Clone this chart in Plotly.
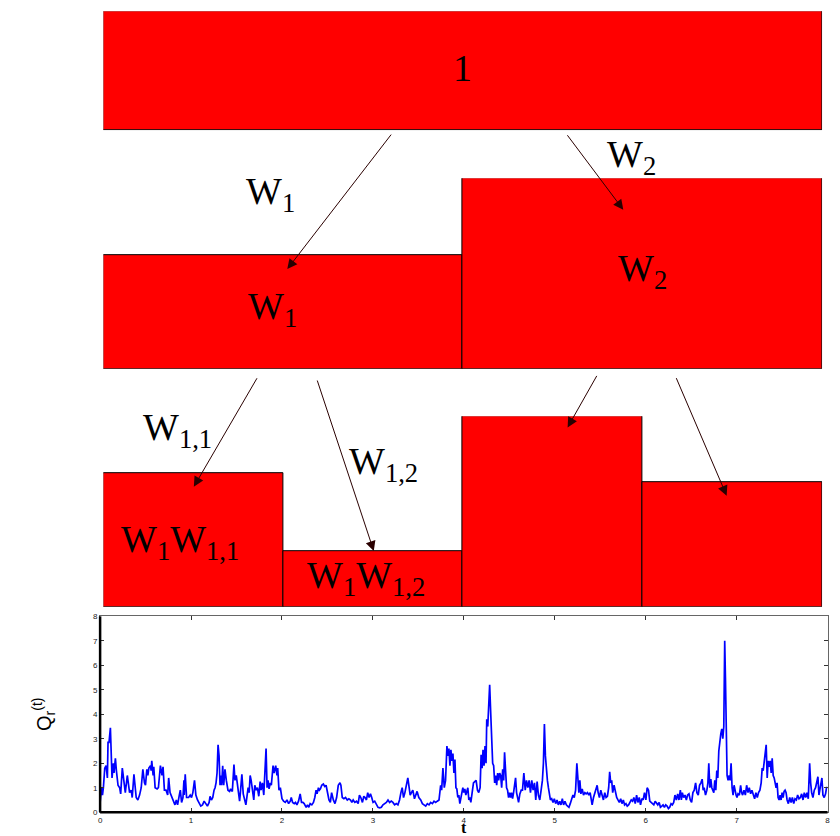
import plotly.graph_objects as go

# ---------------- data ----------------
# cascade levels (heights of the red boxes, top level = 1)
level0 = [1.0]
level1 = [0.95, 1.60]
level2 = [1.12, 0.47, 1.60, 1.05]

level0_labels = ["1"]
level1_labels = ["W<sub>1</sub>", "W<sub>2</sub>"]
level2_labels = ["W<sub>1</sub>W<sub>1,1</sub>", "W<sub>1</sub>W<sub>1,2</sub>", "", ""]

# Q_r(t) series
t_vals = [
    0.000, 0.015, 0.026, 0.036, 0.051, 0.066, 0.080, 0.087, 0.098, 0.113, 0.131, 0.146, 0.153, 0.168, 0.179,
    0.197, 0.215, 0.226, 0.244, 0.262, 0.277, 0.299, 0.324, 0.342, 0.353, 0.372, 0.397, 0.415, 0.434, 0.452,
    0.470, 0.488, 0.499, 0.514, 0.525, 0.536, 0.554, 0.561, 0.568, 0.583, 0.590, 0.605, 0.627, 0.641, 0.663,
    0.681, 0.692, 0.707, 0.725, 0.743, 0.754, 0.769, 0.787, 0.805, 0.823, 0.838, 0.852, 0.871, 0.882, 0.896,
    0.911, 0.922, 0.925, 0.936, 0.951, 0.973, 0.991, 1.005, 1.020, 1.038, 1.053, 1.071, 1.089, 1.107, 1.126,
    1.144, 1.162, 1.180, 1.199, 1.209, 1.224, 1.239, 1.253, 1.264, 1.275, 1.286, 1.297, 1.308, 1.319, 1.326,
    1.337, 1.348, 1.359, 1.373, 1.388, 1.406, 1.424, 1.435, 1.454, 1.472, 1.483, 1.497, 1.508, 1.519, 1.534,
    1.545, 1.559, 1.574, 1.592, 1.603, 1.617, 1.628, 1.639, 1.650, 1.661, 1.676, 1.690, 1.701, 1.716, 1.730,
    1.745, 1.760, 1.770, 1.785, 1.800, 1.825, 1.836, 1.847, 1.858, 1.872, 1.883, 1.902, 1.913, 1.931, 1.945,
    1.953, 1.967, 1.982, 2.000, 2.018, 2.036, 2.055, 2.073, 2.091, 2.102, 2.117, 2.135, 2.149, 2.164, 2.182,
    2.200, 2.215, 2.230, 2.244, 2.266, 2.281, 2.295, 2.310, 2.328, 2.346, 2.361, 2.375, 2.386, 2.401, 2.412,
    2.423, 2.437, 2.455, 2.470, 2.485, 2.499, 2.517, 2.532, 2.546, 2.565, 2.583, 2.601, 2.619, 2.638, 2.648,
    2.663, 2.681, 2.699, 2.718, 2.736, 2.754, 2.769, 2.783, 2.801, 2.820, 2.838, 2.852, 2.867, 2.885, 2.900,
    2.914, 2.929, 2.943, 2.958, 2.973, 2.987, 3.002, 3.020, 3.038, 3.056, 3.075, 3.093, 3.111, 3.129, 3.148,
    3.166, 3.184, 3.202, 3.220, 3.239, 3.257, 3.275, 3.293, 3.308, 3.322, 3.337, 3.352, 3.384, 3.395, 3.410,
    3.424, 3.439, 3.457, 3.475, 3.486, 3.505,
    3.526, 3.544, 3.562, 3.581, 3.599, 3.617, 3.635, 3.654, 3.672, 3.690, 3.708, 3.727, 3.745, 3.756, 3.770,
    3.785, 3.799, 3.814, 3.825, 3.836, 3.847, 3.858, 3.869, 3.880, 3.891, 3.902, 3.913, 3.923, 3.934, 3.945,
    3.956, 3.967, 3.978, 3.989, 4.000, 4.011, 4.022, 4.033, 4.044, 4.055, 4.066, 4.077, 4.091, 4.106, 4.120,
    4.135, 4.150, 4.164, 4.179, 4.190, 4.201, 4.211, 4.222, 4.233, 4.244, 4.252, 4.263, 4.273, 4.284, 4.295,
    4.306, 4.317, 4.328, 4.339, 4.350, 4.361, 4.372, 4.383, 4.394, 4.405, 4.416, 4.427, 4.438, 4.448, 4.459,
    4.470, 4.481, 4.492, 4.503, 4.514, 4.525, 4.536, 4.547, 4.558, 4.569, 4.580, 4.591, 4.602, 4.616, 4.631,
    4.645, 4.660, 4.675, 4.689, 4.704, 4.718, 4.733, 4.747, 4.762, 4.777, 4.791, 4.806, 4.820, 4.835, 4.850,
    4.864, 4.875, 4.886, 4.897, 4.908, 4.919, 4.930, 4.941, 4.952, 4.966, 4.981, 4.995, 5.010, 5.025, 5.039,
    5.054, 5.068, 5.083, 5.097, 5.112, 5.127, 5.141, 5.156, 5.170, 5.185, 5.200, 5.214, 5.229, 5.243, 5.254,
    5.265, 5.276, 5.287, 5.302, 5.316, 5.331, 5.345, 5.360, 5.374, 5.389, 5.404, 5.411, 5.426, 5.440, 5.455,
    5.466, 5.477, 5.491, 5.506, 5.520, 5.535, 5.550, 5.564, 5.579, 5.593, 5.604, 5.615, 5.626, 5.637, 5.652,
    5.666, 5.681, 5.695, 5.710, 5.725, 5.739, 5.754, 5.768, 5.783, 5.797, 5.812, 5.827, 5.841, 5.856, 5.870,
    5.885, 5.900, 5.914, 5.929, 5.943, 5.958, 5.972, 5.987, 6.002, 6.016, 6.031, 6.045, 6.060, 6.074, 6.089,
    6.104, 6.118, 6.133, 6.148, 6.162, 6.177, 6.191, 6.206, 6.220, 6.235, 6.250, 6.264, 6.279, 6.293, 6.308,
    6.322, 6.337, 6.352, 6.366, 6.381, 6.392, 6.403, 6.417, 6.432, 6.447, 6.461, 6.476, 6.490, 6.505, 6.519,
    6.534, 6.549, 6.563, 6.578, 6.592, 6.607, 6.621, 6.632, 6.643, 6.658, 6.673, 6.684, 6.694, 6.705, 6.716,
    6.727, 6.738, 6.749, 6.760, 6.771, 6.782, 6.793, 6.804, 6.815, 6.826, 6.837, 6.848, 6.859, 6.869, 6.877,
    6.884, 6.895, 6.906, 6.917, 6.928, 6.939, 6.950, 6.961, 6.972, 6.983, 6.994, 7.004, 7.015, 7.030, 7.044,
    7.055, 7.066, 7.081, 7.096, 7.110, 7.125, 7.139, 7.154, 7.168, 7.183, 7.198, 7.212, 7.227, 7.241, 7.256,
    7.270, 7.281, 7.292, 7.303, 7.314, 7.325, 7.336, 7.347, 7.358, 7.369, 7.380, 7.391, 7.402, 7.413, 7.424,
    7.434, 7.445, 7.456, 7.467, 7.478, 7.489, 7.500, 7.511, 7.522, 7.533, 7.544, 7.555, 7.569, 7.584, 7.599,
    7.613, 7.628, 7.642, 7.657, 7.671, 7.686, 7.701, 7.715, 7.730, 7.744, 7.759, 7.774, 7.788, 7.803, 7.814,
    7.825, 7.839, 7.854, 7.868, 7.883, 7.894, 7.905, 7.916, 7.927, 7.938, 7.949, 7.963, 7.978, 7.989, 8.000,
]
q_vals = [
    0.4, 1.0, 0.7, 1.0, 1.8, 1.9, 1.4, 2.85, 2.85, 3.45, 1.4, 2.0, 1.6, 2.2, 1.7,
    1.1, 1.0, 0.75, 1.8, 1.2, 0.8, 1.5, 0.8, 0.9, 0.6, 1.55, 0.6, 0.5, 0.7, 1.0,
    1.75, 1.2, 1.1, 1.75, 1.5, 1.8, 1.9, 1.7, 2.1, 1.5, 1.85, 1.0, 0.95, 1.0, 1.9,
    1.5, 1.85, 0.9, 0.9, 0.7, 1.4, 0.8, 0.65, 0.5, 0.3, 0.5, 0.3, 0.7, 0.9, 0.4,
    0.6, 1.3, 0.7, 1.55, 0.6, 0.6, 0.7, 0.6, 0.8, 1.3, 0.7, 0.5, 0.35, 0.25, 0.3,
    0.45, 0.35, 0.25, 0.4, 0.65, 0.5, 0.6, 0.9, 1.0, 1.2, 1.6, 2.75, 2.3, 1.1, 1.5,
    1.1, 1.9, 1.1, 1.75, 1.3, 0.9, 0.85, 0.95, 0.85, 1.95, 1.3, 1.5, 1.2, 0.8, 0.45,
    0.9, 1.55, 0.75, 0.4, 0.3, 0.7, 1.0, 0.8, 1.5, 1.3, 0.9, 0.5, 1.1, 0.9, 1.0,
    0.65, 1.25, 0.9, 1.2, 0.7, 2.6, 1.0, 1.3, 0.95, 1.2, 1.1, 1.9, 1.6, 1.9, 1.5,
    1.8, 0.9, 1.0, 0.55, 0.45, 0.4, 0.5, 0.35, 0.45, 0.6, 0.4, 0.35, 0.4, 0.3, 0.45,
    0.75, 0.4, 0.4, 0.35, 0.2, 0.3, 0.2, 0.35, 0.3, 0.4, 0.6, 0.9, 0.75, 1.0, 0.9,
    0.95, 1.1, 1.15, 1.05, 1.1, 0.85, 0.5, 0.4, 0.8, 0.5, 0.35, 0.6, 1.1, 1.2, 1.1,
    0.6, 0.55, 0.6, 0.5, 0.55, 0.5, 0.4, 0.5, 0.4, 0.45, 0.35, 0.7, 0.6, 0.4, 0.65,
    0.6, 0.5, 0.8, 0.6, 0.75, 0.6, 0.4, 0.45, 0.3, 0.2, 0.18, 0.2, 0.3, 0.35, 0.4,
    0.5, 0.4, 0.45, 0.4, 0.3, 0.35, 0.3, 0.5, 0.8, 1.0, 0.6, 0.8, 1.4, 1.0, 0.7,
    0.8, 0.9, 0.55, 0.7, 0.85, 0.6,
    0.5, 0.35, 0.3, 0.25, 0.35, 0.3, 0.4, 0.35, 0.45, 0.4, 0.45, 0.5, 1.1, 0.9, 1.8,
    1.0, 1.3, 2.7, 2.3, 2.6, 1.9, 2.55, 2.1, 2.4, 1.6, 2.15, 1.0, 0.95, 0.6, 0.7,
    0.35, 0.6, 0.85, 1.0, 0.8, 0.95, 0.7, 0.9, 1.0, 0.5, 0.6, 0.4, 0.8, 1.2, 1.25,
    1.3, 0.9, 0.8, 1.0, 2.35, 1.8, 2.55, 1.9, 2.7, 2.0, 3.8, 3.5, 4.3, 5.2, 4.1,
    3.0, 2.0, 1.9, 1.2, 1.5, 1.1, 1.6, 1.3, 1.6, 1.5, 1.0, 1.75, 1.3, 2.45, 1.7,
    1.0, 0.9, 0.6, 0.8, 0.6, 0.8, 0.55, 0.8, 1.1, 1.4, 0.8, 0.5, 0.4, 0.75, 0.9,
    0.9, 1.6, 0.9, 1.3, 1.0, 1.3, 0.8, 1.3, 0.9, 1.2, 0.5, 1.25, 0.7, 0.5, 0.9,
    1.3, 2.0, 3.6, 2.3, 1.5, 1.3, 1.0, 0.7, 0.5, 0.55, 0.4, 0.55, 0.35, 0.5, 0.3,
    0.45, 0.3, 0.55, 0.3, 0.45, 0.3, 0.25, 0.2, 0.35, 0.5, 0.7, 0.6, 0.9, 2.0, 1.1,
    0.8, 1.3, 0.75, 0.95, 0.7, 0.8, 0.75, 0.8, 0.7, 0.8, 0.55, 0.3, 0.6, 0.8, 0.9,
    1.1, 0.8, 0.6, 0.9, 0.7, 0.5, 0.8, 0.6, 0.65, 1.0, 1.65, 1.2, 1.3, 0.8, 1.1,
    0.8, 0.6, 0.5, 0.4, 0.55, 0.35, 0.5, 0.3, 0.35, 0.25, 0.3, 0.4, 0.5, 0.45, 0.6,
    0.35, 0.7, 0.4, 0.6, 0.3, 0.55, 0.5, 0.8, 0.5, 1.0, 0.9, 0.45, 0.4, 0.35, 0.3,
    0.45, 0.35, 0.3, 0.4, 0.2, 0.25, 0.3, 0.2, 0.3, 0.25, 0.15, 0.2, 0.35, 0.3, 0.4,
    0.7, 0.5, 0.75, 0.5, 0.9, 0.5, 0.8, 0.6, 0.7, 0.5, 0.7, 0.75, 0.5, 0.4, 0.8,
    0.9, 1.2, 0.8, 0.7, 1.1, 1.2, 1.35, 0.9, 1.0, 0.7, 0.9, 1.2, 2.0, 1.0, 1.35,
    1.0, 0.9, 0.8, 1.3, 0.9, 1.7, 1.4, 2.5, 3.0, 3.2, 3.4, 3.0, 3.5, 7.0, 5.5,
    3.0, 1.5, 1.3, 1.5, 1.3, 2.0, 1.0, 0.7, 1.1, 0.8, 0.7, 0.6, 0.75, 0.7, 1.1,
    0.8, 0.7, 0.9, 0.7, 1.1, 0.8, 1.0, 0.75, 0.9, 0.7, 0.55, 0.8, 0.6, 0.8, 0.9,
    1.2, 1.8, 1.7, 2.2, 2.4, 2.75, 1.4, 2.1, 1.85, 2.1, 1.6, 2.2, 1.5, 1.4, 1.2,
    1.0, 1.2, 0.6, 0.5, 0.7, 0.5, 0.8, 0.6, 0.85, 0.9, 0.8, 0.5, 0.35, 0.6, 0.4,
    0.6, 0.35, 0.55, 0.5, 0.7, 0.55, 0.6, 0.75, 0.5, 0.8, 0.6, 0.8, 0.55, 2.0, 1.2,
    0.8, 0.6, 0.9, 1.0, 1.2, 1.45, 0.7, 0.9, 1.1, 1.4, 0.7, 0.6, 0.75, 1.0, 1.0,
]
x_ticks = [0, 1, 2, 3, 4, 5, 6, 7, 8]
y_ticks = [0, 1, 2, 3, 4, 5, 6, 7, 8]

# ---------------- layout helpers (pixels of the 840x836 window) ----------------
FIG_W, FIG_H = 840, 836
SERIF = "Liberation Serif"


def px_x(p):
    return min(1.0, max(0.0, p / FIG_W))


def px_y(p):
    return min(1.0, max(0.0, 1 - p / FIG_H))


box_left, box_right = 102, 825
unit_px = 120.4            # pixels for one unit of box height
row_baselines = [127.7, 368.7, 609.3]
# nudges (px) of the in-box labels, per level
label_xshift = [[0], [-11, 0], [-13, -7, 0, 0]]
label_yshift = [[3], [3, 2], [-2, 1, 0, 0]]

fig = go.Figure()
levels = [level0, level1, level2]
labels = [level0_labels, level1_labels, level2_labels]
annotations = []
for k, (vals, labs) in enumerate(zip(levels, labels)):
    xa = "x" if k == 0 else f"x{k + 1}"
    ya = "y" if k == 0 else f"y{k + 1}"
    n = len(vals)
    centers = [i + 0.5 for i in range(n)]
    fig.add_trace(go.Bar(
        x=centers, y=vals, width=[1] * n, base=0, cliponaxis=False,
        marker=dict(color="#ff0000", line=dict(color="#000000", width=1)),
        xaxis=xa, yaxis=ya, showlegend=False, hoverinfo="skip",
    ))
    top_px = max(row_baselines[k] - unit_px * max(vals), 0)
    lay_x = dict(domain=[px_x(box_left), px_x(box_right)], range=[0, n], visible=False,
                 fixedrange=True)
    lay_y = dict(domain=[px_y(row_baselines[k]), px_y(top_px)],
                 range=[0, (row_baselines[k] - top_px) / unit_px],
                 visible=False, fixedrange=True)
    if k == 0:
        fig.update_layout(xaxis=lay_x, yaxis=lay_y)
    else:
        lay_x["anchor"] = ya
        lay_y["anchor"] = xa
        fig.update_layout(**{f"xaxis{k + 1}": lay_x, f"yaxis{k + 1}": lay_y})
    for i, (c, v, lab) in enumerate(zip(centers, vals, labs)):
        if lab:
            annotations.append(dict(x=c, y=v / 2, xref=xa, yref=ya, text=lab, showarrow=False,
                                    xanchor="center", yanchor="middle",
                                    xshift=label_xshift[k][i], yshift=label_yshift[k][i],
                                    font=dict(family=SERIF, size=38, color="black")))

# bottom time series
fig.add_trace(go.Scatter(x=t_vals, y=q_vals, mode="lines", line=dict(color="#0000ff", width=1.7),
                         xaxis="x4", yaxis="y4", showlegend=False, hoverinfo="skip"))
tickfont = dict(family="Liberation Sans", size=8, color="#222222")
fig.update_layout(
    xaxis4=dict(domain=[px_x(98.7), px_x(830.5)], range=[0, 8], anchor="y4", tickvals=x_ticks,
                ticks="inside", ticklen=4, tickcolor="#333", mirror="ticks", showline=True,
                linecolor="#666", linewidth=1, showgrid=False, zeroline=False, tickfont=tickfont),
    yaxis4=dict(domain=[px_y(817), px_y(619)], range=[0, 8], anchor="x4", tickvals=y_ticks,
                ticks="inside", ticklen=4, tickcolor="#333", mirror="ticks", showline=True,
                linecolor="#666", linewidth=1, showgrid=False, zeroline=False, tickfont=tickfont),
)
shapes = [
    dict(type="line", xref="x4 domain", yref="y4 domain", x0=0, x1=0, y0=0, y1=1,
         line=dict(color="black", width=2.5)),
    dict(type="line", xref="x4 domain", yref="y4 domain", x0=0, x1=1, y0=0, y1=0,
         line=dict(color="black", width=2.5)),
]

# arrow labels (centre, pixels)
arrow_labels = [
    ("W<sub>1</sub>", 270, 192),
    ("W<sub>2</sub>", 633, 155),
    ("W<sub>1,1</sub>", 177, 431),
    ("W<sub>1,2</sub>", 384, 465),
]
for txt, lx, ly in arrow_labels:
    annotations.append(dict(x=px_x(lx), y=px_y(ly), xref="paper", yref="paper", text=txt,
                            showarrow=False, xanchor="center", yanchor="middle",
                            font=dict(family=SERIF, size=38, color="black")))

# arrows: head position and tail offset (pixels)
arrows = [
    (287, 268, 105, -136),
    (625, 208, -57, -76),
    (193, 488, 64, -110),
    (374, 553, -57, -172),
    (569, 428, 30, -53),
    (729, 497, -51, -119),
]
for hx, hy, ax, ay in arrows:
    annotations.append(dict(x=px_x(hx), y=px_y(hy), xref="paper", yref="paper", text="",
                            showarrow=True, ax=ax, ay=ay, arrowhead=2, arrowsize=2,
                            arrowwidth=1, arrowcolor="#2a0000", standoff=0, startstandoff=0))

# axis titles
annotations.append(dict(x=px_x(42), y=px_y(718), xref="paper", yref="paper",
                        text="Q<sub>r</sub><sup>(t)</sup>", textangle=-90, showarrow=False,
                        xanchor="center", yanchor="middle",
                        font=dict(family="Liberation Sans", size=20, color="black")))
annotations.append(dict(x=px_x(465), y=px_y(832), xref="paper", yref="paper",
                        text="<b>t</b>", showarrow=False, xanchor="center", yanchor="middle",
                        font=dict(family="Liberation Serif", size=16, color="black")))

fig.update_layout(
    width=FIG_W, height=FIG_H, margin=dict(l=0, r=0, t=0, b=0),
    paper_bgcolor="white", plot_bgcolor="white",
    bargap=0, annotations=annotations, shapes=shapes,
)

# let the figure fill the window exactly (no default page margin), no mode bar
fig.write_html("out.html", config={"displayModeBar": False},
               post_script="document.body.style.margin='0';document.body.style.overflow='hidden';")
